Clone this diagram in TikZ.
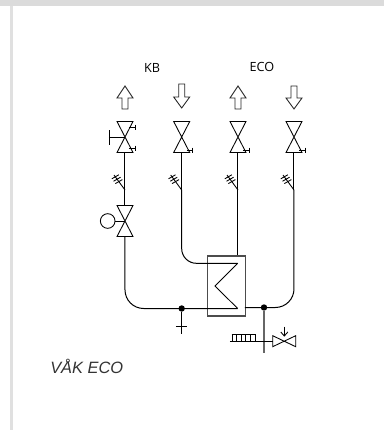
\documentclass[tikz,border=0pt]{standalone}
\usepackage{fontspec}
\setmainfont{Open Sans}
\newfontfamily\capfont{Liberation Sans}
\usepackage{tikz}
\usetikzlibrary{positioning}
\usetikzlibrary{calc}

\tikzset{
  pipe/.style={draw=black, line width=0.75pt},
  symb/.style={draw=black, line width=0.65pt},
  jdot/.style={circle, fill=black, inner sep=0pt, minimum size=4.8pt},
  lbl/.style={font=\fontsize{9.5}{9.5}\selectfont, inner sep=0pt},
  openarrow/.style={draw=black!85, line width=0.65pt, fill=white},
}
% upright valve
\newcommand{\valvev}[1]{
  \draw[symb] ($(#1)+(-8,-15.5)$) -- ($(#1)+(8,-15.5)$) -- ($(#1)+(-8,15.5)$) -- ($(#1)+(8,15.5)$) -- cycle;
}
% break mark on a pipe
\newcommand{\breakmark}[1]{
  \draw[symb] ($(#1)+(-11,-15)$) -- (#1);
  \foreach \t in {0.12,0.28,0.44} {
    \draw[symb] ($(#1)+(-11,-15)+(\t*11,\t*15)+(-3.5,2)$) -- ++(7,-4);
  }
}

\begin{document}
\begin{tikzpicture}[x=0.75pt, y=-0.75pt]
  \useasboundingbox (0,0) rectangle (384,430);
  \fill[black!14] (0,0) rectangle (384,6);
  \fill[black!12] (10,6) rectangle (13,430);

  \node[lbl] (kb) at (152,68) {KB};
  \node[lbl] (eco) at (262,67) {ECO};

  % arrows
  \draw[openarrow] (125,86) -- (133,98) -- (128,98) -- (128,109) -- (122,109) -- (122,98) -- (117,98) -- cycle;
  \draw[openarrow] (181.7,108) -- (189.7,97) -- (184.7,97) -- (184.7,84) -- (178.7,84) -- (178.7,97) -- (173.7,97) -- cycle;
  \draw[openarrow] (238,86) -- (246,98) -- (241,98) -- (241,109) -- (235,109) -- (235,98) -- (230,98) -- cycle;
  \draw[openarrow] (294,109) -- (302,98) -- (297,98) -- (297,86) -- (291,86) -- (291,98) -- (286,98) -- cycle;

  % valves
  \coordinate (v1) at (125,137);
  \coordinate (v2) at (181.7,137);
  \coordinate (v3) at (238,137);
  \coordinate (v4) at (294,137);
  \coordinate (v5) at (125,221);
  \foreach \p in {v1,v2,v3,v4,v5} {
    \valvev{\p}
  }

  % stubs
  \draw[symb] (109,137) -- (v1);
  \draw[symb] (109,130) -- (109,145);
  \draw[symb] (129,127) -- (135,127) (135,124.5) -- (135,129.5);
  \draw[symb] (129,148) -- (135,148) (135,145.5) -- (135,150.5);
  \foreach \x in {181.7,238,294} {
    \draw[symb] (\x+5,150) -- (\x+11,150) (\x+11,147.5) -- (\x+11,152.5);
  }

  % pipes
  \coordinate (b1) at (125,190);
  \coordinate (b2) at (181.7,190);
  \coordinate (b3) at (238,190);
  \coordinate (b4) at (294,190);
  \draw[pipe] (125,152.5) -- (125,206);
  \draw[pipe] (238,152.5) -- (238,256);
  \draw[pipe] (181.7,152.5) -- (b2);
  \draw[pipe] (294,152.5) -- (b4);
  \foreach \p in {b1,b2,b3,b4} {
    \breakmark{\p}
  }

  % actuator
  \node[circle, draw=black, line width=0.65pt, minimum size=11pt, inner sep=0pt] (act) at (107.7,221) {};
  \draw[symb] (act) -- (v5);

  % heat exchanger
  \node[draw=black!70, line width=0.8pt, minimum width=28pt, minimum height=45pt, inner sep=0pt] (hx) at (226.4,286) {};
  \draw[symb] (237.7,263.3) -- (215,286) -- (237.7,308.5);

  \draw[pipe, rounded corners=14pt] (125,236) -- (125,308.5) -- (237.7,308.5);
  \draw[pipe, rounded corners=11pt] (181.7,190) -- (181.7,263.3) -- (237.7,263.3);
  \draw[pipe, rounded corners=14pt] (294,190) -- (294,307.5) -- (245,307.5);

  \node[jdot] (j1) at (181.7,308.5) {};
  \node[jdot] (j2) at (264,307.5) {};

  % drain
  \draw[pipe] (j1) -- (181.7,334);
  \draw[symb] (176,326) -- (187,326);

  \draw[draw=black!60, line width=1pt] (j2) -- (264,353);
  \coordinate (vh) at (272.7,341.3);
  \draw[symb] (230,341.3) -- (vh);
  \draw[symb] (272.7,335.7) -- (295.7,346.7) -- (295.7,335.7) -- (272.7,346.7) -- cycle;
  \draw[symb] (231.7,334) -- (255,334);
  \foreach \x in {232,236.5,241,245.5,250,255} {
    \draw[symb] (\x,334) -- (\x,341.3);
  }
  \draw[symb] (284.3,326.7) -- (284.3,336);
  \draw[symb] (280.8,332) -- (284.3,336) -- (287.8,332);

  \node[lbl, anchor=west, text=black!80, font=\capfont\fontsize{12.3}{12.3}\selectfont\itshape] (cap) at (50,366) {VÅK ECO};
\end{tikzpicture}
\end{document}
